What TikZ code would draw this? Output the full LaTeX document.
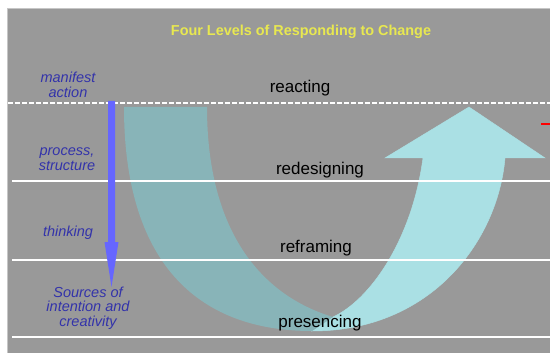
\documentclass[tikz,border=0pt]{standalone}
\usepackage{fontspec}
\setmainfont{Liberation Sans}
\definecolor{slide}{RGB}{153,153,153}
\definecolor{deepteal}{RGB}{136,180,184}
\definecolor{paleteal}{RGB}{170,224,228}
\definecolor{dive}{RGB}{102,102,255}
\definecolor{tag}{RGB}{51,51,170}
\definecolor{headline}{RGB}{232,232,80}
\tikzset{
  level/.style={font=\fontsize{17}{20}\selectfont, text=black, inner sep=0pt},
  side/.style={font=\fontsize{14.5}{14.5}\selectfont\itshape, text=tag, align=center, inner sep=0pt},
  floor/.style={draw=white, line width=1.5pt},
}

\begin{document}
\begin{tikzpicture}[x=1pt,y=-1pt]
\useasboundingbox (0,0) rectangle (550,353);
\fill[white] (0,0) rectangle (550,353);
\filldraw[fill=slide, draw=gray!45, line width=0.8pt] (7.5,8) rectangle (552,355);
\node[font=\fontsize{14.4}{17}\selectfont\bfseries, text=headline] (title) at (301,32) {Four Levels of Responding to Change};
\scope % the U: up side first, down side on top
\filldraw[fill=paleteal, draw=paleteal, line width=0.5pt] (312,331) .. controls (432,331) and (498,240) .. (505,158)
      -- (545,158) -- (469,107) -- (385,158) -- (423,158)
      .. controls (412,240) and (370,300) .. (333,317) -- cycle;
\fill[deepteal] (124,107) .. controls (124,260) and (195,331) .. (312,331)
      -- (333,317) .. controls (260,295) and (207,230) .. (207,107) -- cycle;
\endscope
% level lines
\draw[floor, line width=2pt, dash pattern=on 5pt off 2pt] (8,103) -- (550,103);
\foreach \y in {181,260,337}
  \draw[floor] (12,\y) -- (550,\y);
% going down
\fill[dive] (108,101) -- (115,101) -- (115,242) -- (118.5,242) -- (111.5,287)
      -- (104.5,242) -- (108,242) -- cycle;
\draw[red, line width=2pt] (541,124) -- (550,124);
% levels
\node[level] (reacting) at (300,88) {reacting};
\node[level] (redesigning) at (320,170) {redesigning};
\node[level] (reframing) at (316,248) {reframing};
\node[level] (presencing) at (320,323) {presencing};
% what each level touches
\node[side] (action) at (68,85) {manifest\\action};
\node[side] (structure) at (67,159) {process,\\structure};
\node[side] (thinking) at (68,233) {thinking};
\node[side] (sources) at (88,308) {Sources of\\intention and\\creativity};
\end{tikzpicture}
\end{document}
